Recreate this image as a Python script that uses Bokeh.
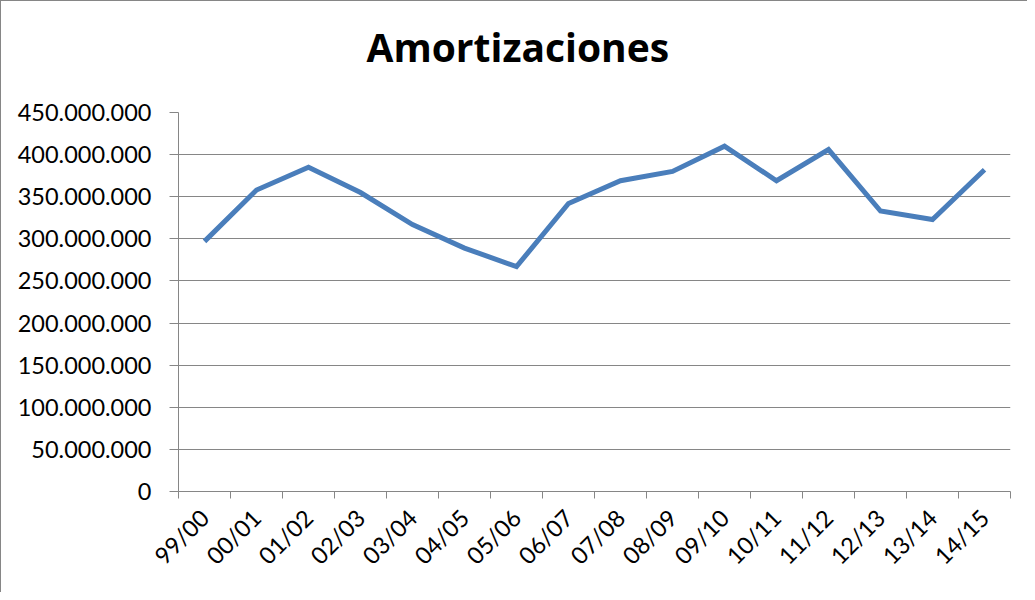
import math
from bokeh.plotting import figure
from bokeh.models import FixedTicker, CustomJSTickFormatter, Range1d, ColumnDataSource, Title
from bokeh.embed import file_html
from bokeh.resources import INLINE

categories = ["99/00", "00/01", "01/02", "02/03", "03/04", "04/05", "05/06", "06/07",
              "07/08", "08/09", "09/10", "10/11", "11/12", "12/13", "13/14", "14/15"]
amortizaciones = [297e6, 358e6, 385e6, 355e6, 317e6, 289e6, 267e6, 342e6,
                  369e6, 380e6, 410e6, 369e6, 406e6, 333e6, 323e6, 382e6]
y_ticks = [0, 50e6, 100e6, 150e6, 200e6, 250e6, 300e6, 350e6, 400e6, 450e6]
title_text = "Amortizaciones"

n = len(categories)
xs = [i + 0.5 for i in range(n)]
src = ColumnDataSource(dict(x=xs, y=amortizaciones))

FONT = "Lato"
GRAY = "#868686"

p = figure(width=1027, height=592, output_backend="svg", toolbar_location=None,
           x_range=Range1d(0, n), y_range=Range1d(0, 450e6),
           min_border_left=177, min_border_right=18, min_border_top=111, min_border_bottom=102)
p.styles = {"border-left": "1px solid " + GRAY, "border-top": "1px solid " + GRAY}

# spacer panel between the title and the plot frame
p.add_layout(Title(text=" ", text_font_size="1px", standoff=37), "above")

p.title.text = title_text
p.title.text_font = "Open Sans"
p.title.text_font_size = "39px"
p.title.text_font_style = "bold"
p.title.text_color = "black"
p.title.align = "left"
p.title.offset = 188
p.title.standoff = 0

p.line("x", "y", source=src, line_color="#4a7ebb", line_width=5, line_join="miter")

p.outline_line_color = None
p.background_fill_color = "white"
p.border_fill_color = "white"

# x axis
xa = p.xaxis[0]
xa.ticker = FixedTicker(ticks=xs, minor_ticks=list(range(n + 1)))
xa.major_label_overrides = {x: c for x, c in zip(xs, categories)}
xa.major_label_orientation = math.pi / 4
xa.major_tick_out = 0
xa.major_tick_in = 0
xa.minor_tick_out = 7
xa.minor_tick_in = 0
xa.minor_tick_line_color = GRAY
xa.axis_line_color = GRAY
xa.major_label_text_font = FONT
xa.major_label_text_font_size = "23.5px"
xa.major_label_text_color = "black"
xa.major_label_standoff = 15

# y axis
ya = p.yaxis[0]
ya.ticker = FixedTicker(ticks=y_ticks, minor_ticks=[])
ya.formatter = CustomJSTickFormatter(code="""
return Math.round(tick).toString().replace(/\\B(?=(\\d{3})+(?!\\d))/g, ".");
""")
ya.major_tick_out = 9
ya.major_tick_in = 0
ya.major_tick_line_color = GRAY
ya.axis_line_color = GRAY
ya.major_label_text_font = FONT
ya.major_label_text_font_size = "23.5px"
ya.major_label_text_color = "black"
ya.major_label_standoff = 18

p.xgrid.grid_line_color = None
p.ygrid.grid_line_color = GRAY
p.ygrid.ticker = FixedTicker(ticks=y_ticks)

open("out.html", "w").write(file_html(p, INLINE))
